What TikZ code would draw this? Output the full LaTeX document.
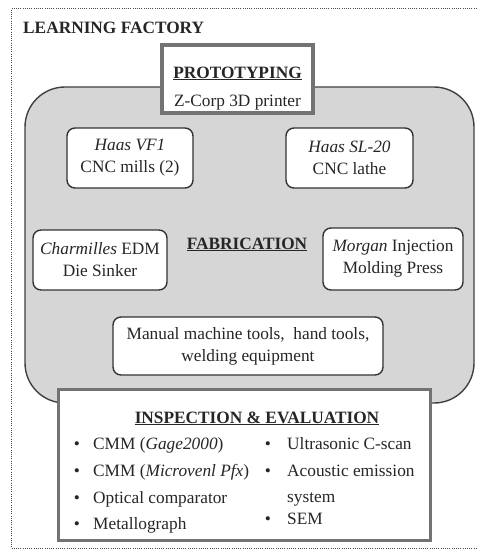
\documentclass[tikz,border=0pt]{standalone}
\usepackage{fontspec}
\setmainfont{Liberation Serif}
\begin{document}
\begin{tikzpicture}[x=1pt,y=-1pt,
  font=\fontsize{17.3}{22}\selectfont,
  txt/.style={text=black!85, inner sep=0pt},
  region/.style={draw=black!75, line width=1.4pt, fill=black!16, rounded corners=40pt, inner sep=0pt},
  thickbox/.style={draw=black!55, line width=3.6pt, fill=white, inner sep=0pt},
  smallbox/.style={draw=black!80, line width=1.4pt, fill=white, rounded corners=8pt, align=center, text=black!85, inner sep=0pt},
  bul/.style={txt, anchor=base},
  item/.style={txt, anchor=base west},
]
\useasboundingbox (0,0) rectangle (478,551);
\fill[white] (0,0) rectangle (478,551);
% outer dotted frame
\coordinate (fr1) at (490,9);
\coordinate (fr2) at (11,9);
\coordinate (fr3) at (11,548);
\coordinate (fr4) at (490,548);
\draw[black!70, line width=1pt, dash pattern=on 1pt off 1.2pt] (fr1) -- (fr2) -- (fr3) -- (fr4);
\node[txt, anchor=base west] (title) at (23,34) {\textbf{LEARNING FACTORY}};

% fabrication region
\node[region, minimum width=449pt, minimum height=316pt] (fab) at (249.5,245) {};

% prototyping
\node[thickbox, minimum width=151pt, minimum height=68pt] (proto) at (237.5,79) {};
\node[txt, anchor=base] (protot) at (237.5,78) {\underline{\textbf{PROTOTYPING}}};
\node[txt, anchor=base] (zcorp) at (237.5,106) {Z-Corp 3D printer};

% machine boxes
\node[smallbox, minimum width=126pt, minimum height=60pt] (vf1) at (130,158) {\textit{Haas VF1}\\CNC mills (2)};
\node[smallbox, minimum width=127pt, minimum height=60pt] (sl20) at (349.5,158) {\textit{Haas SL-20}\\CNC lathe};
\node[smallbox, minimum width=134pt, minimum height=60pt] (edm) at (100,260) {\textit{Charmilles} EDM\\Die Sinker};
\node[smallbox, minimum width=140pt, minimum height=62pt] (morgan) at (393,259) {\textit{Morgan} Injection\\Molding Press};
\node[txt, anchor=base] (fabt) at (247,249) {\underline{\textbf{FABRICATION}}};
\node[smallbox, minimum width=270pt, minimum height=58pt] (manual) at (248,346) {Manual machine tools,\ \ hand tools,\\welding equipment};

% inspection
\node[thickbox, minimum width=372pt, minimum height=151pt] (insp) at (244.5,465) {};
\node[txt, anchor=base] (inspt) at (257,423) {\underline{\textbf{INSPECTION \& EVALUATION}}};

\node[bul] (b1) at (77,449) {\textbullet};
\node[item] (i1) at (93,449) {CMM (\textit{Gage2000})};
\node[bul] (b2) at (77,476) {\textbullet};
\node[item] (i2) at (93,476) {CMM (\textit{Microvenl Pfx})};
\node[bul] (b3) at (77,503) {\textbullet};
\node[item] (i3) at (93,503) {Optical comparator};
\node[bul] (b4) at (77,529) {\textbullet};
\node[item] (i4) at (93,529) {Metallograph};

\node[bul] (b5) at (268,449) {\textbullet};
\node[item] (i5) at (287,449) {Ultrasonic C-scan};
\node[bul] (b6) at (268,476) {\textbullet};
\node[item] (i6) at (287,476) {Acoustic emission};
\node[item] (i7) at (287,502) {system};
\node[bul] (b8) at (268,524) {\textbullet};
\node[item] (i8) at (287,524) {SEM};
\end{tikzpicture}
\end{document}
